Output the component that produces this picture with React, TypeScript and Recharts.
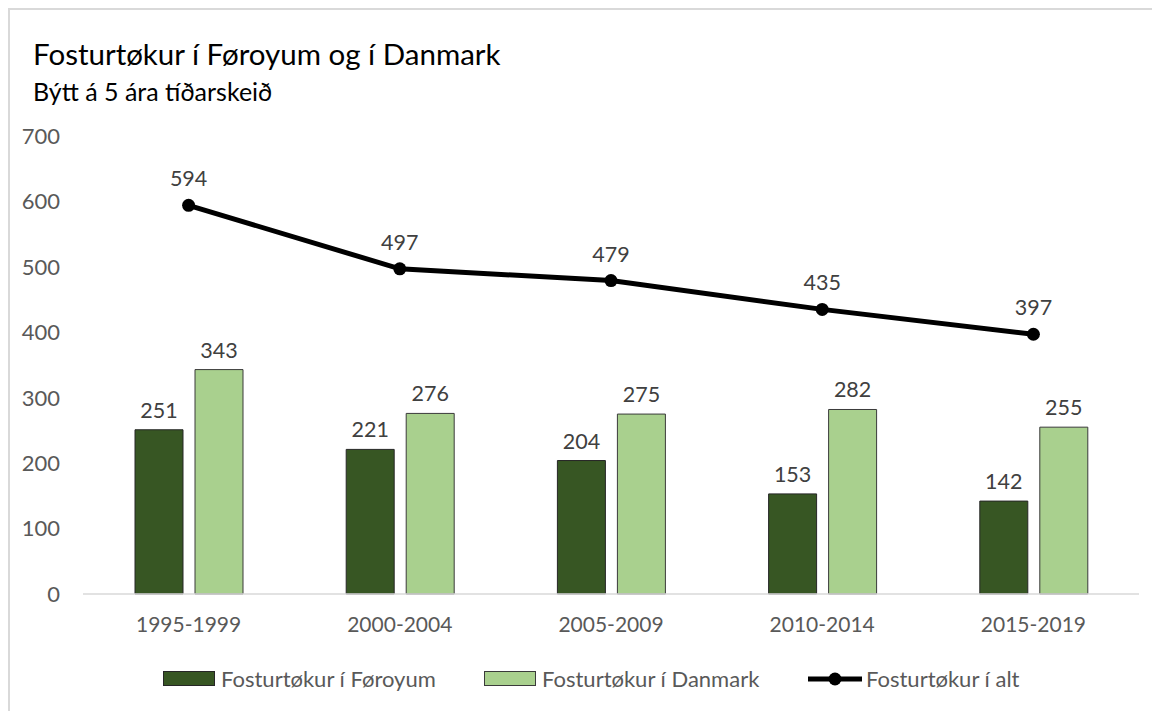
import React from 'react';
import { ComposedChart, Bar, Line, XAxis, YAxis, LabelList } from 'recharts';

const periods = ['1995-1999', '2000-2004', '2005-2009', '2010-2014', '2015-2019'];
const faroe = [251, 221, 204, 153, 142];
const denmark = [343, 276, 275, 282, 255];
const total = [594, 497, 479, 435, 397];
const yTicks = [0, 100, 200, 300, 400, 500, 600, 700];

const DARK = '#375623';
const LIGHT = '#a9d08e';
const FONT = 'Lato, "Open Sans", sans-serif';

const data = periods.map((p, i) => ({
  period: p,
  faroe: faroe[i],
  denmark: denmark[i],
  total: total[i],
}));

const labelStyle = { fill: '#404040', fontSize: 21.5, fontFamily: FONT };

const App: React.FC = () => {
  return (
    <div
      style={{
        position: 'relative',
        width: 1152,
        height: 703,
        borderTop: '2px solid #d9d9d9',
        borderLeft: '2px solid #d9d9d9',
        boxSizing: 'border-box',
        fontFamily: FONT,
        background: '#fff',
      }}
    >
      <div style={{ position: 'absolute', left: 23, top: 26, fontSize: 29.5, color: '#000', whiteSpace: 'nowrap' }}>
        Fosturtøkur í Føroyum og í Danmark
      </div>
      <div style={{ position: 'absolute', left: 23, top: 66, fontSize: 25, color: '#000', whiteSpace: 'nowrap' }}>
        Býtt á 5 ára tíðarskeið
      </div>

      <div style={{ position: 'absolute', left: -2, top: -2 }}>
        <ComposedChart
          width={1152}
          height={640}
          data={data}
          margin={{ top: 128, right: 21, bottom: 14, left: 0 }}
          barGap={12}
        >
          <XAxis
            dataKey="period"
            axisLine={{ stroke: '#d9d9d9', strokeWidth: 1.5 }}
            tickLine={false}
            tick={{ fill: '#595959', fontSize: 21, fontFamily: FONT }}
            tickMargin={17}
            height={40}
          />
          <YAxis
            domain={[0, 700]}
            ticks={yTicks}
            axisLine={false}
            tickLine={false}
            tick={{ fill: '#595959', fontSize: 22, fontFamily: FONT }}
            tickMargin={17}
            width={75}
          />
          <Bar dataKey="faroe" fill={DARK} stroke="#262626" strokeWidth={1} barSize={48} isAnimationActive={false}>
            <LabelList dataKey="faroe" position="top" offset={12} style={labelStyle} />
          </Bar>
          <Bar dataKey="denmark" fill={LIGHT} stroke="#3a3a3a" strokeWidth={1} barSize={48} isAnimationActive={false}>
            <LabelList dataKey="denmark" position="top" offset={12} style={labelStyle} />
          </Bar>
          <Line
            dataKey="total"
            stroke="#000"
            strokeWidth={5}
            dot={{ r: 6.5, fill: '#000', stroke: '#000', strokeWidth: 0 }}
            isAnimationActive={false}
          >
            <LabelList dataKey="total" position="top" offset={19} style={labelStyle} />
          </Line>
        </ComposedChart>
      </div>

      {/* legend */}
      <div style={{ position: 'absolute', top: 655, left: 0, fontSize: 22, color: '#595959', whiteSpace: 'nowrap' }}>
        <div style={{ position: 'absolute', left: 153, display: 'flex', alignItems: 'center' }}>
          <div style={{ width: 50, height: 13, background: DARK, border: '1px solid #262626', marginRight: 6 }} />
          <span>Fosturtøkur í Føroyum</span>
        </div>
        <div style={{ position: 'absolute', left: 474, display: 'flex', alignItems: 'center' }}>
          <div style={{ width: 50, height: 13, background: LIGHT, border: '1px solid #3a3a3a', marginRight: 6 }} />
          <span>Fosturtøkur í Danmark</span>
        </div>
        <div style={{ position: 'absolute', left: 798, display: 'flex', alignItems: 'center' }}>
          <svg width={54} height={16} style={{ marginRight: 4 }}>
            <line x1={0} y1={8} x2={54} y2={8} stroke="#000" strokeWidth={5} />
            <circle cx={27} cy={8} r={6.5} fill="#000" />
          </svg>
          <span>Fosturtøkur í alt</span>
        </div>
      </div>
    </div>
  );
};

export default App;
